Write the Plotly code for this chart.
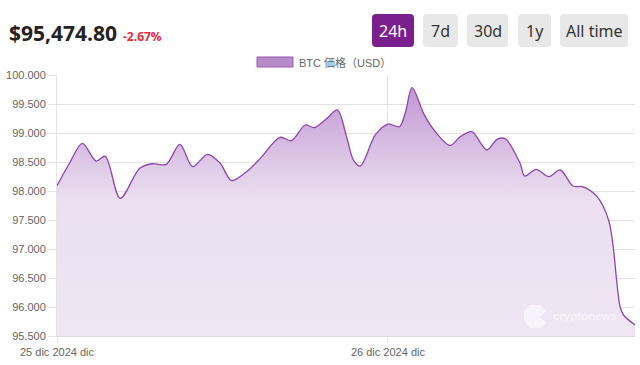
import plotly.graph_objects as go

# ---- data ----
times = [
    "2024-12-25 00:00", "2024-12-25 00:55", "2024-12-25 01:50", "2024-12-25 02:50",
    "2024-12-25 03:30", "2024-12-25 04:35", "2024-12-25 06:00", "2024-12-25 06:55",
    "2024-12-25 07:55", "2024-12-25 08:55", "2024-12-25 09:50", "2024-12-25 10:55",
    "2024-12-25 11:50", "2024-12-25 12:40", "2024-12-25 13:45", "2024-12-25 14:45",
    "2024-12-25 16:10", "2024-12-25 17:00", "2024-12-25 18:00", "2024-12-25 18:40",
    "2024-12-25 19:35", "2024-12-25 20:20", "2024-12-25 21:00", "2024-12-25 21:30",
    "2024-12-25 22:00", "2024-12-25 23:05", "2024-12-26 00:00", "2024-12-26 00:50",
    "2024-12-26 01:15", "2024-12-26 01:45", "2024-12-26 02:35", "2024-12-26 03:15",
    "2024-12-26 04:30", "2024-12-26 05:15", "2024-12-26 06:05", "2024-12-26 07:10",
    "2024-12-26 07:55", "2024-12-26 08:30", "2024-12-26 09:35", "2024-12-26 09:55",
    "2024-12-26 10:45", "2024-12-26 11:40", "2024-12-26 12:30", "2024-12-26 13:25",
    "2024-12-26 14:10", "2024-12-26 15:10", "2024-12-26 16:00", "2024-12-26 16:20",
    "2024-12-26 16:35", "2024-12-26 16:50", "2024-12-26 17:05", "2024-12-26 17:55",
]
prices = [
    98092, 98483, 98822, 98517,
    98598, 97874, 98391, 98470,
    98460, 98805, 98420, 98633,
    98478, 98178, 98333, 98563,
    98925, 98868, 99138, 99092,
    99253, 99397, 98937, 98534,
    98431, 98966, 99155, 99108,
    99339, 99781, 99339, 99080,
    98787, 98937, 99023, 98707,
    98891, 98902, 98478, 98259,
    98374, 98247, 98362, 98086,
    98072, 97902, 97500, 97040,
    96466, 96005, 95862, 95690,
]
y_ticks = [95500, 96000, 96500, 97000, 97500, 98000, 98500, 99000, 99500, 100000]
x_tickvals = ["2024-12-25 00:00", "2024-12-26 00:00"]
x_ticktext = ["25 dic 2024 dic", "26 dic 2024 dic"]
series_name = "BTC 価格（USD）"
price_text = "$95,474.80"
change_text = "-2.67%"
buttons = ["24h", "7d", "30d", "1y", "All time"]

# ---- layout geometry (pixels) ----
W, H = 640, 365
L, R, T, B = 57, 5, 75, 29
PW, PH = W - L - R, H - T - B


def px(x):
    return (x - L) / PW


def py(y):
    return (H - B - y) / PH


def rrect(x0, y0, x1, y1, r=4):
    X0, X1 = px(x0), px(x1)
    Y0, Y1 = py(y0), py(y1)  # Y0 top, Y1 bottom
    rx, ry = r / PW, r / PH
    return (f"M{X0+rx},{Y0} L{X1-rx},{Y0} Q{X1},{Y0} {X1},{Y0-ry} "
            f"L{X1},{Y1+ry} Q{X1},{Y1} {X1-rx},{Y1} L{X0+rx},{Y1} "
            f"Q{X0},{Y1} {X0},{Y1+ry} L{X0},{Y0-ry} Q{X0},{Y0} {X0+rx},{Y0} Z")


fig = go.Figure()
fig.add_trace(go.Scatter(
    x=times, y=prices, mode="lines",
    line=dict(color="#8e44ad", width=1.3, shape="spline", smoothing=0.9),
    fill="tozeroy",
    fillgradient=dict(
        type="vertical",
        colorscale=[[0, "#efe6f3"], [0.55, "#ebdff0"], [1, "#c297d2"]],
        start=95500, stop=99800,
    ),
    showlegend=False, hoverinfo="x+y",
))

shapes = []
annotations = []

# legend
shapes.append(dict(type="rect", xref="paper", yref="paper",
                   x0=px(257), x1=px(293), y0=py(67), y1=py(57),
                   fillcolor="#b88bc9", line=dict(color="#9b59b6", width=1)))
annotations.append(dict(xref="paper", yref="paper", x=px(297), y=py(62),
                        text=series_name, showarrow=False, xanchor="left",
                        yanchor="middle",
                        font=dict(size=11, color="#666666",
                                  family="Liberation Sans, Noto Sans CJK JP")))

# title
annotations.append(dict(xref="paper", yref="paper", x=px(7), y=py(33),
                        text=f"<b>{price_text}</b>", showarrow=False,
                        xanchor="left", yanchor="middle",
                        font=dict(size=21, color="#222222", family="Open Sans")))
annotations.append(dict(xref="paper", yref="paper", x=px(121), y=py(36),
                        text=f"<b>{change_text}</b>", showarrow=False,
                        xanchor="left", yanchor="middle",
                        font=dict(size=12, color="#e8283a", family="Open Sans")))

# buttons
btn_x = [(372, 414), (423, 458), (467, 508), (518, 551), (560, 628)]
for i, (lab, (a, b)) in enumerate(zip(buttons, btn_x)):
    active = i == 0
    shapes.append(dict(type="path", xref="paper", yref="paper",
                       path=rrect(a, 14, b, 47, 4),
                       fillcolor="#7b1f8f" if active else "#e8e8e8",
                       line=dict(width=0)))
    annotations.append(dict(xref="paper", yref="paper", x=px((a + b) / 2), y=py(31),
                            text=lab, showarrow=False, xanchor="center",
                            yanchor="middle",
                            font=dict(size=16, color="#ffffff" if active else "#333333",
                                      family="Noto Sans")))

# watermark
shapes.append(dict(type="path", xref="paper", yref="paper",
                   path=(f"M{px(530)},{py(305)} L{px(540)},{py(305)} L{px(546)},{py(311)} "
                         f"L{px(540)},{py(317)} L{px(546)},{py(323)} L{px(540)},{py(328)} "
                         f"L{px(530)},{py(328)} L{px(524)},{py(321)} L{px(524)},{py(311)} Z"),
                   fillcolor="rgba(255,255,255,0.55)", line=dict(width=0)))
annotations.append(dict(xref="paper", yref="paper", x=px(551), y=py(316),
                        text="<b>cryptonews</b>", showarrow=False, xanchor="left",
                        yanchor="middle",
                        font=dict(size=11.5, color="rgba(255,255,255,0.6)",
                                  family="Liberation Sans")))

fig.update_layout(
    width=W, height=H,
    margin=dict(l=L, r=R, t=T, b=B, pad=0),
    paper_bgcolor="white", plot_bgcolor="white",
    separators=",.",
    shapes=shapes, annotations=annotations,
    font=dict(family="Liberation Sans, Arial", size=12, color="#666666"),
    hovermode="x",
)
fig.update_xaxes(
    type="date",
    range=["2024-12-25 00:00", "2024-12-26 17:55"],
    tickvals=x_tickvals, ticktext=x_ticktext,
    showgrid=True, gridcolor="#e3e3e3", gridwidth=1,
    ticks="outside", ticklen=6, tickcolor="#e3e3e3",
    showline=True, linecolor="#dcdcdc", linewidth=1,
    tickfont=dict(size=11, color="#666666"),
    zeroline=False,
)
fig.update_yaxes(
    range=[95500, 100000],
    tickvals=y_ticks, tickformat=",.0f",
    showgrid=True, gridcolor="#e3e3e3", gridwidth=1,
    ticks="outside", ticklen=8, tickcolor="#e3e3e3",
    showline=True, linecolor="#e3e3e3", linewidth=1,
    tickfont=dict(size=11, color="#666666"),
    zeroline=False,
)

fig.write_html(
    "out.html",
    config={"displayModeBar": False},
    post_script="document.body.style.margin='0';document.body.style.padding='0';",
)
